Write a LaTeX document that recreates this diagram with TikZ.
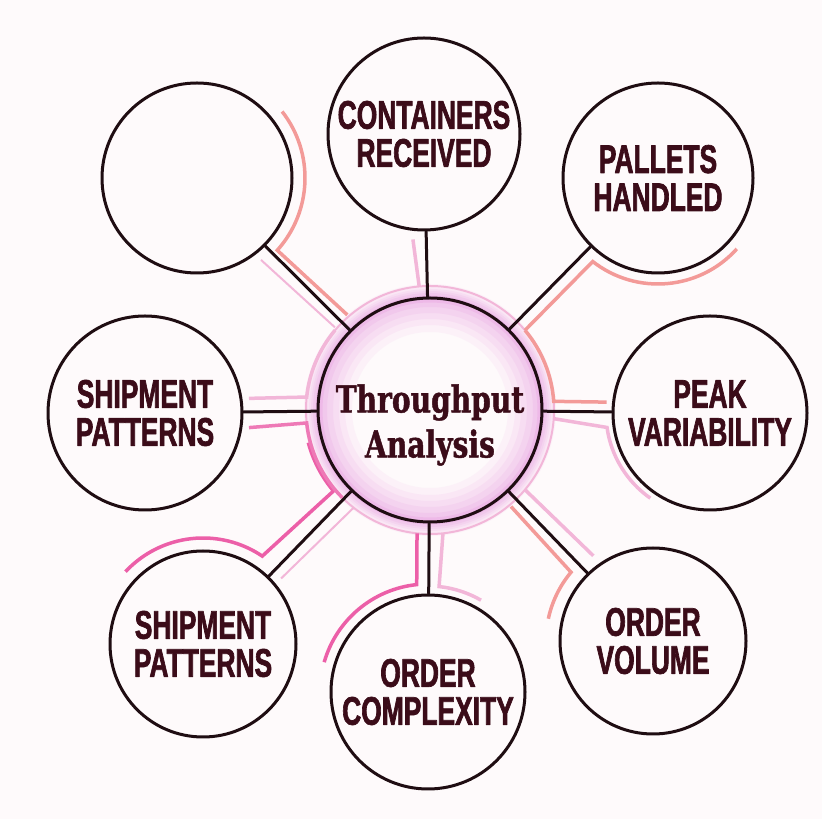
\documentclass[tikz,border=0pt]{standalone}
\usepackage{fontspec}
\usepackage{tikz}
\newfontfamily\hubfont[FakeStretch=0.76, FakeBold=1.2]{DejaVu Serif Bold}
\newfontfamily\satfont[FakeStretch=0.66, FakeBold=1.6]{Liberation Sans Bold}
\definecolor{ink}{HTML}{3B0C19}
\definecolor{rim}{HTML}{1F0D12}
\definecolor{hotpink}{HTML}{EC5FA8}
\definecolor{salmon}{HTML}{F39A98}
\definecolor{softpink}{HTML}{F2B6D8}
\definecolor{haze}{HTML}{E070D4}
\definecolor{paper}{HTML}{FEFAFB}
\pgfdeclarelayer{bg}
\pgfsetlayers{bg,main}

\begin{document}
\begin{tikzpicture}[x=1pt, y=1pt, line cap=round, line join=round,
  hubnode/.style={circle, draw=rim, line width=3pt, minimum size=224pt, inner sep=0pt},
  hubtext/.style={align=center, text=ink, inner sep=0pt, font=\hubfont\fontsize{37}{45}\selectfont},
  sat/.style={circle, draw=rim, line width=3pt, minimum size=#1, inner sep=0pt,
    align=center, text=ink, font=\satfont\fontsize{40}{38}\selectfont},
  link/.style={draw=rim, line width=3pt},
  glow/.style={#1, line width=3.5pt}]
\useasboundingbox (0,0) rectangle (822,819);

\node[hubnode] (hub) at (430,409) {};
\node[hubtext] (title) at ([yshift=-15pt]hub.center) {Throughput\\Analysis};

\node[sat=190pt] (blank) at (197,641) {};
\node[sat=192pt] (containers) at (424,685) {CONTAINERS\\RECEIVED};
\node[sat=190pt] (pallets) at (658,641) {PALLETS\\HANDLED};
\node[sat=194pt] (peak) at (710,406) {PEAK\\VARIABILITY};
\node[sat=186pt] (volume) at (653,178) {ORDER\\VOLUME};
\node[sat=194pt] (complexity) at (428,127) {ORDER\\COMPLEXITY};
\node[sat=186pt] (shiplow) at (203,175) {SHIPMENT\\PATTERNS};
\node[sat=194pt] (shipleft) at (145,406) {SHIPMENT\\PATTERNS};

\draw[link] (hub) -- (blank);
\draw[link] (hub) -- (containers);
\draw[link] (hub) -- (pallets);
\draw[link] (hub) -- (peak);
\draw[link] (hub) -- (volume);
\draw[link] (hub) -- (complexity);
\draw[link] (hub) -- (shiplow);
\draw[link] (hub) -- (shipleft);

\begin{pgfonlayer}{bg}
\fill[paper] (0,0) rectangle (822,819);
% halo round the hub
\draw[haze, line width=48pt, opacity=.06] (hub.center) circle (102);
\draw[haze, line width=38pt, opacity=.07] (hub.center) circle (104);
\draw[haze, line width=30pt, opacity=.08] (hub.center) circle (106);
\draw[haze, line width=22pt, opacity=.09] (hub.center) circle (108);
\draw[haze, line width=14pt, opacity=.11] (hub.center) circle (110);
\draw[haze, line width=7pt, opacity=.16] (hub.center) circle (111);
\draw[softpink, line width=2pt] (hub.center) circle (124);

% glow along the links
\draw[glow=salmon] ([shift={(38:108)}]blank.center) arc[start angle=38, end angle=-42, radius=108] -- ([shift={(131:126)}]hub.center);
\draw[glow=softpink, line width=2pt] ([shift={(-52:104)}]blank.center) -- ([shift={(139:126)}]hub.center);
\draw[glow=softpink] ([shift={(-96:106)}]containers.center) -- ([shift={(95:124)}]hub.center);
\draw[glow=salmon] ([shift={(40:124)}]hub.center) -- ([shift={(232:106)}]pallets.center) arc[start angle=232, end angle=318, radius=106];
\draw[glow=salmon] ([shift={(40:124)}]hub.center) arc[start angle=40, end angle=4, radius=124] -- ([shift={(174:104)}]peak.center);
\draw[glow=softpink] ([shift={(-4:124)}]hub.center) -- ([shift={(188:104)}]peak.center) arc[start angle=188, end angle=235, radius=104];
\draw[glow=salmon] ([shift={(-50:126)}]hub.center) -- ([shift={(140:107)}]volume.center) arc[start angle=140, end angle=168, radius=107];
\draw[glow=softpink] ([shift={(-40:124)}]hub.center) -- ([shift={(125:104)}]volume.center);
\draw[glow=hotpink] ([shift={(-96:124)}]hub.center) -- ([shift={(96:108)}]complexity.center) arc[start angle=96, end angle=164, radius=108];
\draw[glow=softpink] ([shift={(-84:124)}]hub.center) -- ([shift={(84:106)}]complexity.center) arc[start angle=84, end angle=60, radius=106];
\draw[glow=hotpink] ([shift={(137:106)}]shiplow.center) arc[start angle=137, end angle=56, radius=106] -- ([shift={(-140:126)}]hub.center) arc[start angle=-140, end angle=-165, radius=126];
\draw[glow=softpink, line width=2pt] ([shift={(40:102)}]shiplow.center) -- ([shift={(-128:124)}]hub.center);
\draw[glow=hotpink!70!softpink] ([shift={(-8:105)}]shipleft.center) -- ([shift={(186:124)}]hub.center) arc[start angle=186, end angle=225, radius=124];
\draw[glow=softpink] ([shift={(8:105)}]shipleft.center) -- ([shift={(174:124)}]hub.center) arc[start angle=174, end angle=140, radius=124];
\end{pgfonlayer}
\end{tikzpicture}
\end{document}
